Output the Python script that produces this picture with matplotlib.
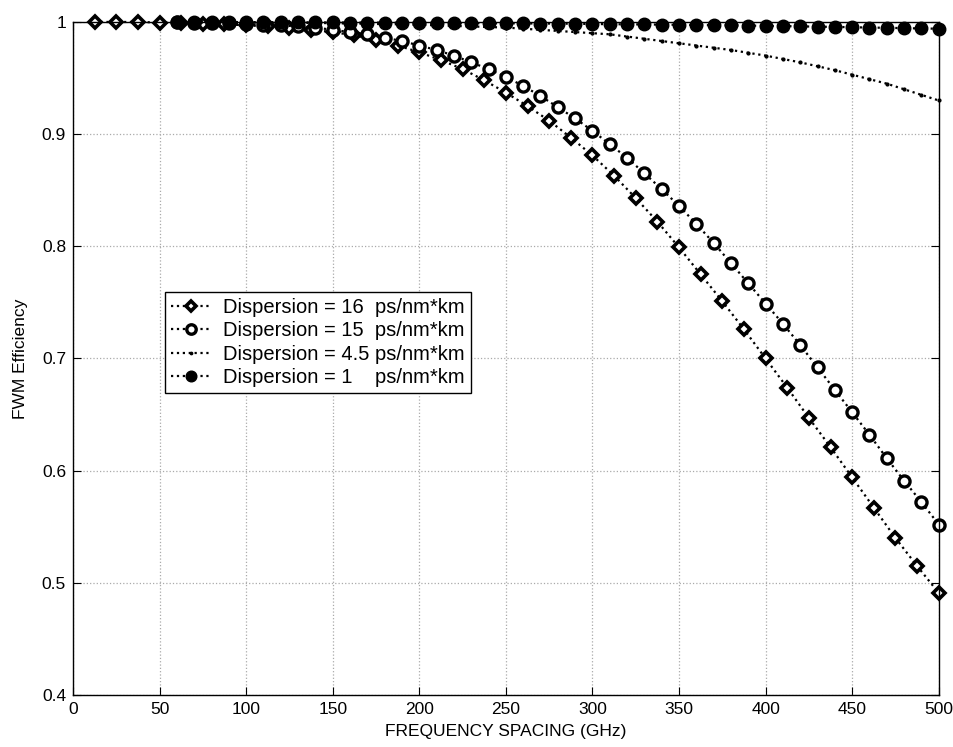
import numpy as np
import matplotlib
matplotlib.use('Agg')
import matplotlib.pyplot as plt

plt.rcParams['font.family'] = ['Liberation Sans', 'DejaVu Sans']

# frequency spacing (GHz)
freq_d16 = np.arange(12.5, 500.1, 12.5)
freq_10 = np.arange(60, 500.1, 10)

# FWM efficiency
eff_d16 = [1.0, 1.0, 1.0, 0.9995, 0.999, 0.9985, 0.998, 0.997, 0.996, 0.9945,
           0.993, 0.991, 0.988, 0.984, 0.979, 0.973, 0.966, 0.958, 0.948, 0.937,
           0.925, 0.912, 0.897, 0.881, 0.863, 0.843, 0.822, 0.799, 0.775, 0.751,
           0.726, 0.700, 0.674, 0.647, 0.621, 0.594, 0.567, 0.540, 0.515, 0.491]

eff_d15 = [1.0, 0.9995, 0.999, 0.999, 0.998, 0.9975, 0.997, 0.996, 0.995, 0.993,
           0.991, 0.989, 0.986, 0.983, 0.979, 0.975, 0.970, 0.964, 0.958, 0.951,
           0.943, 0.934, 0.924, 0.914, 0.903, 0.891, 0.879, 0.865, 0.851, 0.836,
           0.820, 0.803, 0.785, 0.767, 0.749, 0.731, 0.712, 0.692, 0.672, 0.652,
           0.632, 0.611, 0.591, 0.572, 0.552]

eff_d45 = [1.0, 1.0, 0.9999, 0.9998, 0.9997, 0.9995, 0.9995, 0.9993, 0.999, 0.999,
           0.9985, 0.9985, 0.998, 0.998, 0.9975, 0.997, 0.9965, 0.996, 0.9955, 0.995,
           0.994, 0.993, 0.992, 0.991, 0.990, 0.989, 0.987, 0.985, 0.983, 0.981,
           0.979, 0.977, 0.975, 0.9725, 0.970, 0.967, 0.964, 0.9605, 0.957, 0.953,
           0.949, 0.945, 0.940, 0.935, 0.930]

eff_d1 = [1.0, 1.0, 1.0, 1.0, 0.9998, 0.9998, 0.9997, 0.9997, 0.9996, 0.9996,
          0.9995, 0.9995, 0.9994, 0.9994, 0.9993, 0.9992, 0.9991, 0.999, 0.9989, 0.9988,
          0.9987, 0.9986, 0.9985, 0.9984, 0.9982, 0.998, 0.9979, 0.9978, 0.9976, 0.9975,
          0.9973, 0.9971, 0.997, 0.9968, 0.9965, 0.9963, 0.9961, 0.9958, 0.9956, 0.9953,
          0.995, 0.9948, 0.9945, 0.9942, 0.994]

labels = ['Dispersion = 16  ps/nm*km',
          'Dispersion = 15  ps/nm*km',
          'Dispersion = 4.5 ps/nm*km',
          'Dispersion = 1    ps/nm*km']

fig = plt.figure(figsize=(9.54, 7.47), dpi=100)
ax = fig.add_axes([0.0765, 0.0696, 0.9075, 0.901])

ax.plot(freq_d16, eff_d16, ':', color='black', lw=1.6, marker='D', ms=6,
        mfc='white', mec='black', mew=2.6, label=labels[0], clip_on=False)
ax.plot(freq_10, eff_d15, ':', color='black', lw=1.6, marker='o', ms=8,
        mfc='white', mec='black', mew=2.4, label=labels[1], clip_on=False)
ax.plot(freq_10, eff_d45, ':', color='black', lw=1.6, marker='.', ms=4,
        mfc='black', mec='black', label=labels[2], clip_on=False)
ax.plot(freq_10, eff_d1, ':', color='black', lw=1.6, marker='o', ms=9,
        mfc='black', mec='black', label=labels[3], clip_on=False)

ax.set_xlim(0, 500)
ax.set_ylim(0.4, 1.0)
ax.set_xticks(np.arange(0, 501, 50))
ax.set_yticks([0.4, 0.5, 0.6, 0.7, 0.8, 0.9, 1.0])
ax.set_yticklabels(['0.4', '0.5', '0.6', '0.7', '0.8', '0.9', '1'])
ax.tick_params(direction='in', length=6, width=0.8, top=True, right=True,
               labelsize=12.5, colors='black', pad=5)
ax.grid(True, linestyle=':', color='#aaaaaa', linewidth=0.9)
for s in ax.spines.values():
    s.set_color('black')
    s.set_linewidth(1.0)

ax.set_xlabel('FREQUENCY SPACING (GHz)', fontsize=12.5, labelpad=5)
ax.set_ylabel('FWM Efficiency', fontsize=12.5, labelpad=10)

leg = ax.legend(loc='upper left', bbox_to_anchor=(0.106, 0.599), fontsize=14.5,
                frameon=True, fancybox=False, edgecolor='black', framealpha=1,
                handlelength=2.0, handletextpad=0.6, borderpad=0.3,
                labelspacing=0.22, borderaxespad=0, markerscale=0.85)
leg.get_frame().set_linewidth(1.0)

fig.savefig('out.png', dpi=100, facecolor='white')
